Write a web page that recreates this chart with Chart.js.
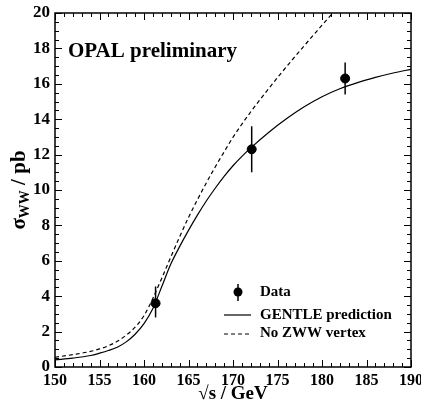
<!DOCTYPE html>
<html>
<head>
<meta charset="utf-8">
<script src="https://cdn.jsdelivr.net/npm/chart.js@4.4.1/dist/chart.umd.min.js"></script>
<style>
html, body { margin: 0; padding: 0; background: #fff; }
#wrap { width: 421px; height: 406px; }
</style>
</head>
<body>
<div id="wrap"><canvas id="grafico" width="421" height="406"></canvas></div>
<script>
// Datos medidos (OPAL)
const energias = [161.3, 172.1, 182.6];
const sigmaDatos = [3.6, 12.3, 16.3];
const errArriba = [0.95, 1.3, 0.9];
const errAbajo = [0.8, 1.3, 0.9];

// Prediccion GENTLE
const gentleX = [150, 152, 154, 155, 156, 157, 158, 159, 160, 161, 162, 163, 164, 165, 166, 167, 168, 169, 170, 171, 172, 174, 176, 178, 180, 182, 184, 186, 188, 190];
const gentleY = [0.4, 0.5, 0.65, 0.78, 0.93, 1.12, 1.42, 1.85, 2.45, 3.3, 4.55, 5.8, 6.8, 7.72, 8.58, 9.38, 10.1, 10.77, 11.37, 11.9, 12.38, 13.25, 14.02, 14.7, 15.27, 15.72, 16.07, 16.36, 16.61, 16.82];

// Sin vertice ZWW
const noZwwX = [150, 152, 154, 155, 156, 157, 158, 159, 160, 161, 162, 163, 164, 165, 166, 167, 168, 169, 170, 171, 172, 173, 174, 175, 176, 177, 178, 179, 180, 181, 182];
const noZwwY = [0.55, 0.7, 0.88, 1.02, 1.2, 1.45, 1.8, 2.25, 2.9, 3.88, 5.02, 6.2, 7.35, 8.45, 9.45, 10.4, 11.3, 12.15, 12.98, 13.72, 14.42, 15.08, 15.72, 16.35, 16.96, 17.56, 18.15, 18.73, 19.31, 19.88, 20.45];

// Etiquetas de los ejes
const ticksX = [150, 155, 160, 165, 170, 175, 180, 185, 190];
const ticksY = [0, 2, 4, 6, 8, 10, 12, 14, 16, 18, 20];

const FUENTE = "'Liberation Serif', 'Times New Roman', serif";
Chart.defaults.font.family = FUENTE;
Chart.defaults.color = '#000';

function linea(ctx, x1, y1, x2, y2) {
    ctx.beginPath();
    ctx.moveTo(x1, y1);
    ctx.lineTo(x2, y2);
    ctx.stroke();
}

// Marco, ticks interiores, barras de error, leyenda y textos
const marcoPlugin = {
    id: 'marco',
    afterDatasetsDraw(chart) {
        const { ctx, scales: { x, y } } = chart;
        ctx.save();
        ctx.strokeStyle = '#000';
        ctx.lineWidth = 1.5;
        energias.forEach((e, i) => {
            const px = x.getPixelForValue(e);
            linea(ctx, px, y.getPixelForValue(sigmaDatos[i] + errArriba[i]), px, y.getPixelForValue(sigmaDatos[i] - errAbajo[i]));
        });
        ctx.restore();
    },
    afterDraw(chart) {
        const { ctx, chartArea: a, scales: { x, y } } = chart;
        ctx.save();
        ctx.strokeStyle = '#000';
        ctx.lineWidth = 1.5;
        ctx.strokeRect(a.left, a.top, a.right - a.left, a.bottom - a.top);

        ctx.lineWidth = 1;
        for (let v = x.min; v <= x.max + 0.001; v += 1) {
            const px = Math.round(x.getPixelForValue(v)) + 0.5;
            const largo = (Math.round(v) % 5 === 0) ? 7 : 4;
            linea(ctx, px, a.bottom, px, a.bottom - largo);
            linea(ctx, px, a.top, px, a.top + largo);
        }
        for (let v = y.min; v <= y.max + 0.001; v += 0.5) {
            const py = Math.round(y.getPixelForValue(v)) + 0.5;
            const largo = (Math.abs(v % 2) < 0.001) ? 7 : 4;
            linea(ctx, a.left, py, a.left + largo, py);
            linea(ctx, a.right, py, a.right - largo, py);
        }

        // titulo interior
        ctx.fillStyle = '#000';
        ctx.font = 'bold 21px ' + FUENTE;
        ctx.textAlign = 'left';
        ctx.textBaseline = 'alphabetic';
        ctx.fillText('OPAL preliminary', a.left + 13, a.top + 44);

        // leyenda
        const lx = a.left + 169;
        const tx = a.left + 205;
        ctx.font = 'bold 15px ' + FUENTE;
        ctx.textBaseline = 'middle';
        ctx.lineWidth = 1.5;
        linea(ctx, lx + 14, a.top + 271, lx + 14, a.top + 288);
        ctx.beginPath();
        ctx.arc(lx + 14, a.top + 279, 4.5, 0, Math.PI * 2);
        ctx.fill();
        ctx.fillText(chart.data.datasets[0].label, tx, a.top + 279);

        ctx.lineWidth = 1.2;
        linea(ctx, lx, a.top + 302, lx + 27, a.top + 302);
        ctx.fillText(chart.data.datasets[1].label, tx, a.top + 302);

        ctx.setLineDash([4, 3]);
        linea(ctx, lx, a.top + 321, lx + 27, a.top + 321);
        ctx.setLineDash([]);
        ctx.fillText(chart.data.datasets[2].label, tx, a.top + 320);

        // titulos de ejes
        ctx.textAlign = 'center';
        ctx.font = 'bold 19px ' + FUENTE;
        ctx.fillText('\u221As / GeV', (a.left + a.right) / 2, a.bottom + 27);

        ctx.translate(20, (a.top + a.bottom) / 2);
        ctx.rotate(-Math.PI / 2);
        ctx.textAlign = 'left';
        const p1 = '\u03C3', sub = 'WW', p2 = ' / pb';
        ctx.font = 'bold 21px ' + FUENTE;
        const w1 = ctx.measureText(p1).width;
        const w3 = ctx.measureText(p2).width;
        ctx.font = 'bold 14px ' + FUENTE;
        const w2 = ctx.measureText(sub).width;
        let cx = -(w1 + w2 + w3) / 2;
        ctx.font = 'bold 21px ' + FUENTE;
        ctx.fillText(p1, cx, 0);
        cx += w1;
        ctx.font = 'bold 14px ' + FUENTE;
        ctx.fillText(sub, cx, 5);
        cx += w2;
        ctx.font = 'bold 21px ' + FUENTE;
        ctx.fillText(p2, cx, 0);
        ctx.restore();
    }
};

const ctx = document.getElementById('grafico').getContext('2d');
new Chart(ctx, {
    type: 'scatter',
    data: {
        datasets: [
            {
                label: 'Data',
                data: energias.map((e, i) => ({ x: e, y: sigmaDatos[i] })),
                backgroundColor: '#000',
                borderColor: '#000',
                pointRadius: 4.5,
                pointHoverRadius: 4.5
            },
            {
                label: 'GENTLE prediction',
                data: gentleX.map((e, i) => ({ x: e, y: gentleY[i] })),
                showLine: true,
                borderColor: '#000',
                borderWidth: 1.2,
                pointRadius: 0,
                cubicInterpolationMode: 'monotone'
            },
            {
                label: 'No ZWW vertex',
                data: noZwwX.map((e, i) => ({ x: e, y: noZwwY[i] })),
                showLine: true,
                borderColor: '#000',
                borderWidth: 1.2,
                borderDash: [4, 3],
                pointRadius: 0,
                cubicInterpolationMode: 'monotone'
            }
        ]
    },
    options: {
        responsive: false,
        devicePixelRatio: 1,
        animation: false,
        layout: {
            padding: { left: 0, right: 10, top: 13, bottom: 0 }
        },
        plugins: {
            legend: { display: false },
            tooltip: { enabled: false }
        },
        scales: {
            x: {
                type: 'linear',
                min: 150,
                max: 190,
                afterBuildTicks: (s) => { s.ticks = ticksX.map(v => ({ value: v })); },
                afterFit: (s) => { s.height = 39; s.paddingLeft = 0; s.paddingRight = 0; },
                ticks: {
                    font: { size: 16, weight: 'bold' },
                    color: '#000',
                    padding: 4,
                    maxRotation: 0
                },
                grid: { display: false, drawTicks: false },
                border: { display: false }
            },
            y: {
                type: 'linear',
                min: 0,
                max: 20,
                afterBuildTicks: (s) => { s.ticks = ticksY.map(v => ({ value: v })); },
                afterFit: (s) => { s.width = 55; s.paddingTop = 0; s.paddingBottom = 0; },
                ticks: {
                    font: { size: 17, weight: 'bold' },
                    color: '#000',
                    padding: 5
                },
                grid: { display: false, drawTicks: false },
                border: { display: false }
            }
        }
    },
    plugins: [marcoPlugin]
});
</script>
</body>
</html>
